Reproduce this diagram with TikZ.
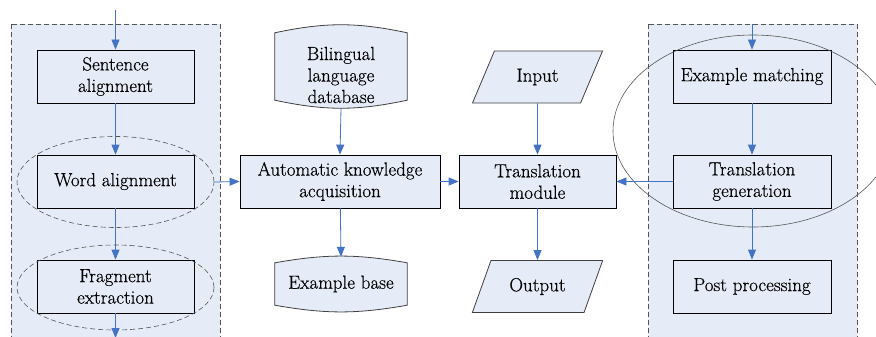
\documentclass[tikz,border=0pt]{standalone}
\usepackage{fontspec}
\newfontfamily\boxfont{Latin Modern Roman}[FakeBold=0.4]
\usetikzlibrary{arrows.meta,shapes.geometric,backgrounds}
\definecolor{paleblue}{RGB}{230,236,247}
\definecolor{flowblue}{RGB}{68,114,196}
\definecolor{rimgray}{RGB}{85,85,85}

\begin{document}
\begin{tikzpicture}[x=1pt, y=-1pt, font=\boxfont\fontsize{19}{21.5}\selectfont,
	block/.style={shape=rectangle, draw=black, fill=paleblue, line width=0.8pt, minimum width=157pt, minimum height=53pt, align=center, inner sep=1pt},
	io/.style={shape=trapezium, trapezium left angle=62, trapezium right angle=118, trapezium stretches=true, draw=black!75, fill=paleblue, line width=0.8pt, minimum width=131pt, minimum height=52pt},
	store/.style={shape=rectangle, minimum width=132pt, inner sep=0pt},
	can/.style={draw=black!75, fill=paleblue, line width=0.8pt},
	ring/.style={shape=ellipse, draw=rimgray, line width=0.6pt},
	flow/.style={draw=flowblue, line width=0.8pt, -{Triangle[length=10pt,width=8pt]}},
	panel/.style={draw=rimgray, dash pattern=on 5pt off 3pt, fill=paleblue, line width=0.8pt}]
	\useasboundingbox (0,0) rectangle (876,337);

	% left column
	\draw node[block](sent) at (115.5,76.5){Sentence\\alignment};
	\draw node[block](word) at (115.5,181.5){Word alignment};
	\draw node[block](frag) at (115.5,286.5){Fragment\\extraction};
	\draw node[ring, dash pattern=on 5pt off 3pt, minimum width=197pt, minimum height=91pt](wordring) at (115.5,182){};
	\draw node[ring, dash pattern=on 5pt off 3pt, minimum width=197pt, minimum height=85pt](fragring) at (115.5,287.5){};
	\coordinate (leftin) at (115.5,10);
	\coordinate (leftout) at (115.5,338);

	% middle columns
	\draw node[store, minimum height=67pt](bld) at (341,66.5){};
	\draw node[align=center](bldtext) at (341,75){Bilingual\\language\\database};
	\draw node[block, minimum width=200pt](auto) at (340,181.5){Automatic knowledge\\acquisition};
	\draw node[store, minimum height=42pt](base) at (341,284){Example base};

	\draw node[io](input) at (537.5,77){Input};
	\draw node[block](module) at (537.5,181.5){Translation\\module};
	\draw node[io](output) at (537.5,286.5){Output};

	% right column
	\draw node[block, minimum width=158pt](match) at (752,76.5){Example matching};
	\draw node[block, minimum width=158pt](gen) at (752,181.5){Translation\\generation};
	\draw node[block, minimum width=158pt](post) at (752,286.5){Post processing};
	\draw node[ring, minimum width=280pt, minimum height=192pt](hub) at (753,131){};
	\coordinate (rightin) at (752,24);

	\begin{scope}[on background layer]
		\draw[panel] (11,24) rectangle (220,350);
		\draw[panel] (648,24) rectangle (857,350);
		\draw[can] (bld.north west) to[bend left=12] (bld.north east) -- (bld.south east) to[bend left=12] (bld.south west) -- cycle;
		\draw[can] (base.north west) to[bend left=10] (base.north east) -- (base.south east) to[bend left=10] (base.south west) -- cycle;
	\end{scope}

	% connectors
	\draw[flow] (leftin) -- (sent);
	\draw[flow] (sent) -- (word);
	\draw[flow] (word) -- (frag);
	\draw[flow] (frag) -- (leftout);
	\draw[flow] (wordring.east) -- (auto.west);
	\draw[flow] ([yshift=-8pt]bld.south) -- (auto.north);
	\draw[flow] (auto) -- ([yshift=6pt]base.north);
	\draw[flow] (auto) -- (module);
	\draw[flow] (input.south) -- (module.north);
	\draw[flow] (module) -- (output.north);
	\draw[flow] (rightin) -- (match);
	\draw[flow] (match) -- (gen);
	\draw[flow] (gen) -- (post);
	\draw[flow] (gen) -- (module);
\end{tikzpicture}
\end{document}
